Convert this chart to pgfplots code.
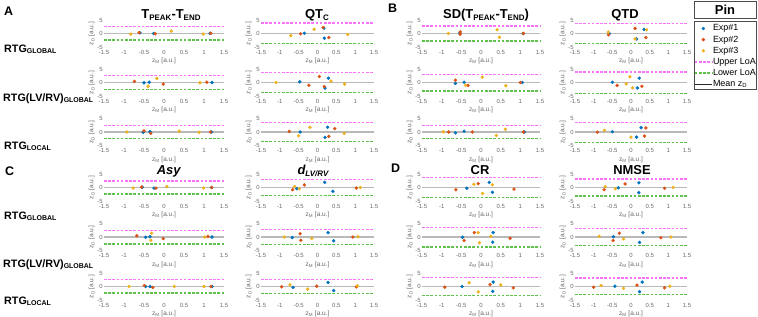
\documentclass[border=0pt]{standalone}
\usepackage{pgfplots}
\pgfplotsset{compat=1.18}
\usepackage{fontspec}
\setmainfont{Liberation Sans}
\definecolor{myblue}{RGB}{0,114,189}
\definecolor{myred}{RGB}{217,83,25}
\definecolor{myyel}{RGB}{237,177,32}
\definecolor{mymag}{RGB}{250,115,250}
\definecolor{mygrn}{RGB}{95,195,75}
\definecolor{mymean}{RGB}{185,185,185}
\definecolor{mytick}{RGB}{105,105,105}
\newcommand\sub[2][8]{\raisebox{-0.35ex}{\fontsize{#1}{#1}\selectfont #2}}
\pgfplotsset{
  sm/.style={scale only axis, width=#1, height=27bp, anchor=north west,
    xmin=-1.5,xmax=1.5,ymin=-5,ymax=5,
    xtick={-1.5,-1,-0.5,0,0.5,1,1.5}, ytick={-5,0,5},
    axis line style={draw=none}, major tick length=0pt,
    /pgf/number format/assume math mode=true,
    tick label style={font=\fontsize{6}{6}\selectfont, text=mytick, inner sep=1bp},
    xticklabel style={yshift=-2bp},
    xlabel={z\textsubscript{M} [a.u.]}, ylabel={z\textsubscript{D} [a.u.]},
    label style={font=\fontsize{6.5}{6.5}\selectfont, text=mytick, inner sep=1bp},
    xlabel style={yshift=-1.5bp}, ylabel style={yshift=0.5bp},
    clip=false},
  e1/.style={only marks, mark=*, mark size=1.5bp, draw=myblue, fill=myblue, mark options={draw=myblue, fill=myblue}},
  e2/.style={only marks, mark=*, mark size=1.5bp, draw=myred, fill=myred, mark options={draw=myred, fill=myred}},
  e3/.style={only marks, mark=*, mark size=1.5bp, draw=myyel, fill=myyel, mark options={draw=myyel, fill=myyel}},
  lup/.style={draw=mymag, color=mymag, solid, dash pattern=on 2.6bp off 1.6bp, line width=1.3bp},
  llo/.style={draw=mygrn, color=mygrn, solid, dash pattern=on 2.6bp off 1.6bp, line width=1.3bp},
  lmean/.style={draw=mymean, color=mymean, solid, line width=1.8bp},
}
\newcommand\refl[2]{%
 \addplot[lup] coordinates {(-1.5,#1) (1.5,#1)};
 \addplot[llo] coordinates {(-1.5,#2) (1.5,#2)};
 \addplot[lmean] coordinates {(-1.5,0) (1.5,0)};}
\begin{document}
\begin{tikzpicture}
\useasboundingbox (0,0) rectangle (758bp,-317bp);
% panel letters
\node[anchor=base west, font=\fontsize{12.5}{13}\bfseries, inner sep=0] at (4bp,-15bp) {A};
\node[anchor=base west, font=\fontsize{12.5}{13}\bfseries, inner sep=0] at (388bp,-12bp) {B};
\node[anchor=base west, font=\fontsize{12.5}{13}\bfseries, inner sep=0] at (5bp,-175bp) {C};
\node[anchor=base west, font=\fontsize{12.5}{13}\bfseries, inner sep=0] at (391bp,-172bp) {D};
% titles
\begin{scope}[every node/.style={anchor=base, font=\fontsize{13}{13}\bfseries, inner sep=0}]
\node at (171bp,-18.5bp) {T\sub{PEAK}-T\sub{END}};
\node at (317bp,-18.5bp) {QT\sub{C}};
\node at (486bp,-18.5bp) {SD(T\sub{PEAK}-T\sub{END})};
\node at (625bp,-18.5bp) {QTD};
\node at (169bp,-174bp) {\textit{Asy}};
\node at (313bp,-174bp) {\textit{d\sub{LV/RV}}};
\node at (480bp,-174bp) {CR};
\node at (632bp,-174bp) {NMSE};
\end{scope}
% row labels
\begin{scope}[every node/.style={anchor=base west, font=\fontsize{10.8}{12}\bfseries, inner sep=0}]
\node at (4bp,-52bp) {RTG\sub[7]{GLOBAL}};
\node at (3bp,-101bp) {RTG(LV/RV)\sub[7]{GLOBAL}};
\node at (4bp,-149bp) {RTG\sub[7]{LOCAL}};
\node at (4bp,-219bp) {RTG\sub[7]{GLOBAL}};
\node at (3bp,-267bp) {RTG(LV/RV)\sub[7]{GLOBAL}};
\node at (4bp,-304bp) {RTG\sub[7]{LOCAL}};
\end{scope}
% ===== A1 Tpeak-Tend
\begin{axis}[sm=120bp, at={(104bp,-20bp)}]
\refl{2.6}{-2.4}
\addplot[e1] coordinates {(-0.6,0.2) (-0.26,0.0) (1.15,0.05)};
\addplot[e2] coordinates {(-0.62,0.35) (-0.22,-0.1) (1.17,0.1)};
\addplot[e3] coordinates {(-0.83,-0.2) (0.18,0.9) (0.98,-0.2)};
\end{axis}
\begin{axis}[sm=120bp, at={(104bp,-69bp)}]
\refl{2.5}{-2.6}
\addplot[e1] coordinates {(-0.5,-0.1) (-0.37,0.1) (1.2,0)};
\addplot[e2] coordinates {(-0.74,0.4) (-0.02,-0.6) (1.07,0.1)};
\addplot[e3] coordinates {(-0.4,-1.4) (-0.18,1.5) (0.9,-0.1)};
\end{axis}
\begin{axis}[sm=120bp, at={(104bp,-118.5bp)}]
\refl{2.4}{-2.4}
\addplot[e1] coordinates {(-0.52,-0.1) (-0.35,0.1) (1.19,0)};
\addplot[e2] coordinates {(-0.5,0.4) (-0.33,-0.5) (1.16,0)};
\addplot[e3] coordinates {(-0.93,0) (0.38,0.3) (0.88,-0.1)};
\end{axis}
% ===== A2 QTc
\begin{axis}[sm=113bp, at={(261bp,-20bp)}]
\refl{3.9}{-3.7}
\addplot[e1] coordinates {(-0.35,0.1) (0.17,2.0) (0.18,-1.75)};
\addplot[e2] coordinates {(-0.45,-0.1) (0.15,2.2) (0.3,-1.5)};
\addplot[e3] coordinates {(-0.71,-0.75) (-0.09,1.6) (0.8,-0.4)};
\end{axis}
\begin{axis}[sm=113bp, at={(261bp,-69bp)}]
\refl{3.8}{-3.8}
\addplot[e1] coordinates {(-0.47,0.25) (0.29,1.6) (0.2,-2.1)};
\addplot[e2] coordinates {(-0.23,-1.0) (0.05,2.25) (0.18,-1.5)};
\addplot[e3] coordinates {(-1.1,0) (0.36,0.5) (0.72,-0.6)};
\end{axis}
\begin{axis}[sm=113bp, at={(261bp,-118.5bp)}]
\refl{3.6}{-3.6}
\addplot[e1] coordinates {(-0.46,0) (0.27,1.75) (0.2,-2.0)};
\addplot[e2] coordinates {(-0.75,0.25) (0.46,1.25) (0.3,-1.6)};
\addplot[e3] coordinates {(-0.5,-1.4) (-0.2,1.75) (0.71,-0.5)};
\end{axis}
% ===== B1 SD(Tpeak-Tend)
\begin{axis}[sm=118bp, at={(422bp,-20bp)}]
\refl{2.75}{-2.75}
\addplot[e1] coordinates {(-0.54,0.25) (1.07,0)};
\addplot[e2] coordinates {(-0.53,0.6) (-0.53,-0.25) (1.08,0)};
\addplot[e3] coordinates {(-0.83,0) (0.41,1.4) (0.47,-1.4)};
\end{axis}
\begin{axis}[sm=118bp, at={(422bp,-69bp)}]
\refl{3.0}{-3.1}
\addplot[e1] coordinates {(-0.65,-0.35) (-0.43,0.1) (1.05,0)};
\addplot[e2] coordinates {(-0.65,0.85) (-0.33,-1.1) (1.0,0)};
\addplot[e3] coordinates {(-0.39,-1.0) (0.03,2.0) (0.63,-1.2)};
\end{axis}
\begin{axis}[sm=118bp, at={(422bp,-118.5bp)}]
\refl{2.3}{-2.5}
\addplot[e1] coordinates {(-0.65,-0.3) (-0.43,0.3) (1.1,0)};
\addplot[e2] coordinates {(-0.82,0) (-0.22,0) (1.08,0)};
\addplot[e3] coordinates {(-0.96,0.1) (0.39,-1.3) (0.62,1.0)};
\end{axis}
% ===== B2 QTD
\begin{axis}[sm=112bp, at={(575bp,-20bp)}]
\refl{3.8}{-3.8}
\addplot[e1] coordinates {(-0.58,0.0) (0.35,1.5) (0.15,-2.0)};
\addplot[e2] coordinates {(-0.6,-0.5) (0.11,1.9) (0.4,-1.5)};
\addplot[e3] coordinates {(-0.61,0.5) (0.42,1.4) (0.11,-2.0)};
\end{axis}
\begin{axis}[sm=112bp, at={(575bp,-69bp)}]
\refl{3.9}{-4.1}
\addplot[e1] coordinates {(-0.5,0.1) (0.22,1.6) (0.17,-2.0)};
\addplot[e2] coordinates {(-0.37,-1.1) (0.29,-1.4)};
\addplot[e3] coordinates {(-0.13,-0.5) (-0.03,2.1) (0.04,-2.0)};
\end{axis}
\begin{axis}[sm=112bp, at={(575bp,-118.5bp)}]
\refl{3.6}{-3.9}
\addplot[e1] coordinates {(-0.5,0.1) (0.15,-1.9) (0.27,1.6)};
\addplot[e2] coordinates {(-0.9,-0.1) (0.4,1.5) (0.36,-1.5)};
\addplot[e3] coordinates {(-0.71,0.6) (0,-1.9)};
\end{axis}
% ===== C1 Asy
\begin{axis}[sm=120bp, at={(104bp,-174bp)}]
\refl{2.4}{-2.4}
\addplot[e1] coordinates {(-0.54,0.1) (-0.25,-0.2) (1.19,0)};
\addplot[e2] coordinates {(-0.56,0.15) (-0.2,-0.2) (1.19,0)};
\addplot[e3] coordinates {(-0.77,-0.2) (0.07,0.35) (0.99,-0.2)};
\end{axis}
\begin{axis}[sm=120bp, at={(104bp,-223.5bp)}]
\refl{2.5}{-2.6}
\addplot[e1] coordinates {(-0.46,-0.1) (-0.35,0.1) (1.2,0)};
\addplot[e2] coordinates {(-0.68,0.45) (-0.02,-0.6) (1.1,0.2)};
\addplot[e3] coordinates {(-0.31,1.4) (-0.33,-1.2) (1.02,0)};
\end{axis}
\begin{axis}[sm=120bp, at={(104bp,-273bp)}]
\refl{2.7}{-2.4}
\addplot[e1] coordinates {(-0.46,0) (-0.35,0) (1.2,0)};
\addplot[e2] coordinates {(-0.49,0.35) (-0.28,-0.35) (1.17,0)};
\addplot[e3] coordinates {(-0.87,0) (0.26,0) (1.0,0)};
\end{axis}
% ===== C2 dLV/RV
\begin{axis}[sm=113bp, at={(261bp,-174bp)}]
\refl{2.9}{-2.9}
\addplot[e1] coordinates {(-0.55,-0.45) (0.19,1.9) (0.41,-1.4)};
\addplot[e2] coordinates {(-0.66,-0.8) (-0.35,0.95) (1.03,-0.2)};
\addplot[e3] coordinates {(-0.61,0.35) (-0.48,-0.45) (1.14,0)};
\end{axis}
\begin{axis}[sm=113bp, at={(261bp,-223.5bp)}]
\refl{2.8}{-2.7}
\addplot[e1] coordinates {(-0.67,-0.2) (0.28,1.6) (0.43,-1.4)};
\addplot[e2] coordinates {(-0.46,1.2) (-0.44,-1.2) (0.94,0)};
\addplot[e3] coordinates {(-0.88,0) (-0.15,-0.5) (1.08,0.1)};
\end{axis}
\begin{axis}[sm=113bp, at={(261bp,-273bp)}]
\refl{2.7}{-2.7}
\addplot[e1] coordinates {(-0.65,-0.35) (0.28,1.5) (0.43,-1.5)};
\addplot[e2] coordinates {(-0.95,-0.1) (-0.02,0.1) (1.03,-0.1)};
\addplot[e3] coordinates {(-0.73,0.6) (-0.26,-0.95) (1.06,0.25)};
\end{axis}
% ===== D1 CR
\begin{axis}[sm=118bp, at={(422bp,-174bp)}]
\refl{3.6}{-3.7}
\addplot[e1] coordinates {(-0.36,-0.25) (0.21,1.9) (0.29,-1.8)};
\addplot[e2] coordinates {(-0.64,-0.85) (-0.07,1.45) (0.84,-0.6)};
\addplot[e3] coordinates {(-0.18,1.2) (0.04,-2.2) (0.29,1.0)};
\end{axis}
\begin{axis}[sm=118bp, at={(422bp,-223.5bp)}]
\refl{3.5}{-3.65}
\addplot[e1] coordinates {(-0.47,-0.1) (0.31,1.65) (0.3,-1.9)};
\addplot[e2] coordinates {(-0.43,-1.3) (-0.17,1.65) (0.74,-0.5)};
\addplot[e3] coordinates {(-0.07,1.65) (-0.04,-2.1) (0.25,0.25)};
\end{axis}
\begin{axis}[sm=118bp, at={(422bp,-273bp)}]
\refl{3.3}{-3.4}
\addplot[e1] coordinates {(-0.48,0) (0.31,1.65) (0.3,-1.8)};
\addplot[e2] coordinates {(-0.92,-0.25) (0.23,0.7) (0.82,-0.5)};
\addplot[e3] coordinates {(-0.3,1.4) (-0.07,-2.0) (0.5,0.6)};
\end{axis}
% ===== D2 NMSE
\begin{axis}[sm=112bp, at={(575bp,-174bp)}]
\refl{3.1}{-3.2}
\addplot[e1] coordinates {(-0.34,-0.1) (0.21,1.75) (0.21,-1.9)};
\addplot[e2] coordinates {(-0.72,-0.8) (-0.16,1.3) (0.9,-0.3)};
\addplot[e3] coordinates {(-0.69,0.35) (-0.42,-0.45) (1.13,0.05)};
\end{axis}
\begin{axis}[sm=112bp, at={(575bp,-223.5bp)}]
\refl{3.1}{-3.2}
\addplot[e1] coordinates {(-0.47,0.1) (0.23,-2.0) (0.32,1.65)};
\addplot[e2] coordinates {(-0.48,-1.3) (-0.31,1.4) (0.8,-0.3)};
\addplot[e3] coordinates {(-0.85,0.2) (-0.2,-0.7) (1.07,0)};
\end{axis}
\begin{axis}[sm=112bp, at={(575bp,-273bp)}]
\refl{3.2}{-2.9}
\addplot[e1] coordinates {(-0.43,0.1) (0.3,1.65) (0.23,-1.9)};
\addplot[e2] coordinates {(-1.0,-0.25) (0.16,0.5) (0.9,-0.5)};
\addplot[e3] coordinates {(-0.8,0.35) (-0.2,-0.7) (1.04,0.1)};
\end{axis}
% ===== legend
\draw[black!70, line width=0.5bp] (694bp,-1.5bp) rectangle (756bp,-18.5bp);
\node[font=\fontsize{13}{13}\bfseries, inner sep=0] at (725bp,-10bp) {Pin};
\draw[black!70, line width=0.5bp] (694bp,-21.5bp) rectangle (756bp,-89.5bp);
\begin{axis}[at={(694bp,-22.5bp)}, anchor=north west, scale only axis, width=5bp, height=5bp,
  hide axis, xmin=0, xmax=1, ymin=0, ymax=1,
  legend style={at={(0,1)}, anchor=north west, draw=none, fill=none,
    font=\fontsize{9}{9.5}\selectfont, inner sep=0bp, row sep=-0.6bp,
    nodes={inner xsep=0.5bp},
    legend cell align=left}]
\addlegendimage{e1}\addlegendentry{Exp\#1}
\addlegendimage{e2}\addlegendentry{Exp\#2}
\addlegendimage{e3}\addlegendentry{Exp\#3}
\addlegendimage{lup}\addlegendentry{Upper LoA}
\addlegendimage{llo}\addlegendentry{Lower LoA}
\addlegendimage{draw=black!85, solid, line width=0.6bp}\addlegendentry{Mean z\textsubscript{D}}
\end{axis}
\end{tikzpicture}
\end{document}
